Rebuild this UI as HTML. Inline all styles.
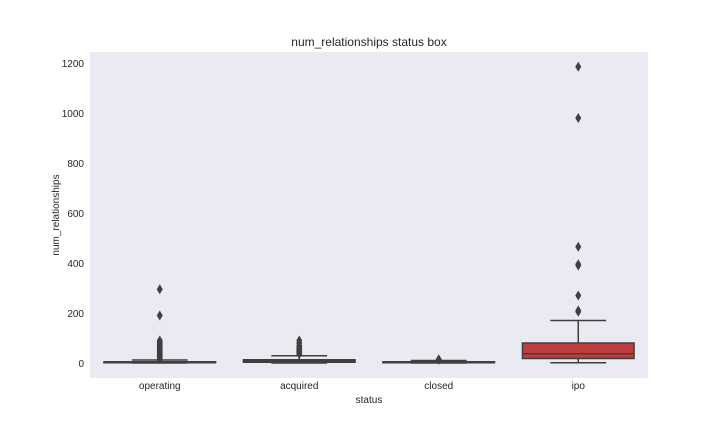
<!DOCTYPE html>
<html><head><meta charset="utf-8"><style>
body{margin:0;background:#fff;font-family:"Liberation Sans","DejaVu Sans",sans-serif}
svg text{font-family:"Liberation Sans","DejaVu Sans",sans-serif;fill:#262626}
</style></head><body>
<svg id="chart" width="720" height="432">
<rect x="90" y="52" width="558" height="326" fill="#eaeaf2"/>
<text x="369" y="46" font-size="12" text-anchor="middle">num_relationships status box</text>
<text x="369" y="403" font-size="10" text-anchor="middle">status</text>
<text transform="translate(59,215) rotate(-90)" font-size="10" text-anchor="middle">num_relationships</text>
<g id="g"></g>
</svg>
<script>
const categories=["operating","acquired","closed","ipo"];
const colors=["#3274a1","#e1812c","#3a923a","#c03d3e"];
const q1=[1,3,1,18];
const medians=[3,8,3,37];
const q3=[5,13,5,80];
const whiskLow=[0,0,0,1];
const whiskHigh=[12,29,10,170];
const outliers=[[15,20,25,30,35,40,45,50,55,60,65,70,75,80,85,90,190,295],[35,40,45,50,55,60,65,70,80,90],[13,15],[205,210,270,390,395,465,980,1185]];
const yTicks=[0,200,400,600,800,1000,1200];
const L=90,R=648,T=52,B=378,yMin=-60,yMax=1244;
const y=v=>B-(v-yMin)/(yMax-yMin)*(B-T);
const band=(R-L)/categories.length;
const x=i=>L+band*(i+0.5);
const g=document.getElementById('g');
const NS="http://www.w3.org/2000/svg";
function mk(t,a){const e=document.createElementNS(NS,t);for(const k in a)e.setAttribute(k,a[k]);g.appendChild(e);return e;}
yTicks.forEach(v=>{const t=mk('text',{x:84,y:y(v)+4,'font-size':10,'text-anchor':'end'});t.textContent=v;

});
categories.forEach((c,i)=>{
const t=mk('text',{x:x(i),y:389,'font-size':10,'text-anchor':'middle'});t.textContent=c;


const cx=x(i),w=band*0.8,st='#3f3f3f';
const wl=mk('line',{x1:cx,x2:cx,y1:y(whiskLow[i]),y2:y(q1[i]),stroke:st,'stroke-width':1.5});


const wh=mk('line',{x1:cx,x2:cx,y1:y(q3[i]),y2:y(whiskHigh[i]),stroke:st,'stroke-width':1.5});


[whiskLow[i],whiskHigh[i]].forEach(v=>{const cp=mk('line',{x1:cx-w/4,x2:cx+w/4,y1:y(v),y2:y(v),stroke:st,'stroke-width':1.5});

});
const bx=mk('rect',{x:cx-w/2,y:y(q3[i]),width:w,height:Math.max(y(q1[i])-y(q3[i]),1),fill:colors[i],stroke:st,'stroke-width':1.5});


const md=mk('line',{x1:cx-w/2,x2:cx+w/2,y1:y(medians[i]),y2:y(medians[i]),stroke:st,'stroke-width':1.5});


outliers[i].forEach(v=>{const yy=y(v);const p=mk('polygon',{points:`${cx},${yy-5} ${cx+3},${yy} ${cx},${yy+5} ${cx-3},${yy}`,fill:st});

});
});
</script>
</body></html>
